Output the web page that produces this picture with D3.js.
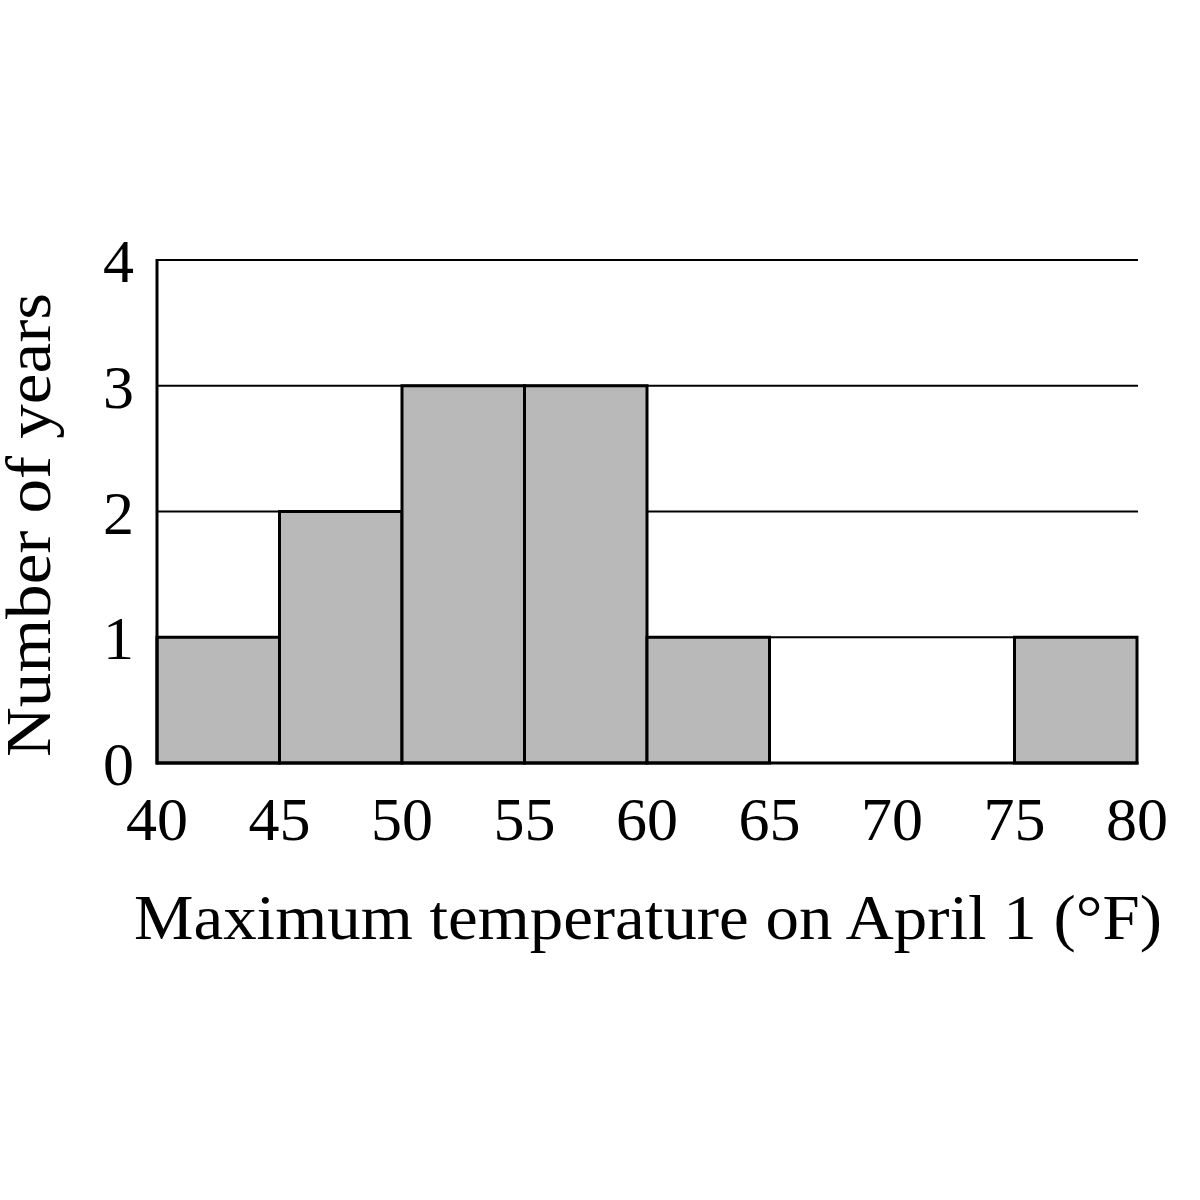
<!DOCTYPE html>
<html>
<head>
<meta charset="utf-8">
<script src="https://cdn.jsdelivr.net/npm/d3@7"></script>
<style>
  html, body { margin: 0; padding: 0; background: #fff; }
  text { font-family: "Liberation Serif", "Times New Roman", serif; fill: #000; }
</style>
</head>
<body>
<div id="chart"></div>
<script>
// histogram bins (lower edge) and counts
const binStarts = [40, 45, 50, 55, 60, 65, 70, 75];
const binWidth = 5;
const counts = [1, 2, 3, 3, 1, 0, 0, 1];
const xTicks = [40, 45, 50, 55, 60, 65, 70, 75, 80];
const yTicks = [0, 1, 2, 3, 4];
const xTitle = "Maximum temperature on April 1 (°F)";
const yTitle = "Number of years";

const width = 1200, height = 1200;
const margin = { top: 260, right: 63, bottom: 437, left: 157 };

const x = d3.scaleLinear().domain([40, 80]).range([margin.left, width - margin.right]);
const y = d3.scaleLinear().domain([0, 4]).range([height - margin.bottom, margin.top]);

const svg = d3.select("#chart").append("svg")
  .attr("width", width)
  .attr("height", height);

// horizontal grid lines
svg.append("g")
  .selectAll("line")
  .data(yTicks.filter(d => d > 0))
  .join("line")
  .attr("x1", x(40))
  .attr("x2", x(80) + 1)
  .attr("y1", d => y(d))
  .attr("y2", d => y(d))
  .attr("stroke", "#000")
  .attr("stroke-width", 2);

// bars
svg.append("g")
  .selectAll("rect")
  .data(binStarts.map((s, i) => ({ s, n: counts[i] })).filter(d => d.n > 0))
  .join("rect")
  .attr("x", d => x(d.s))
  .attr("y", d => y(d.n))
  .attr("width", d => x(d.s + binWidth) - x(d.s))
  .attr("height", d => y(0) - y(d.n))
  .attr("fill", "#b9b9b9")
  .attr("stroke", "#000")
  .attr("stroke-width", 3);

// axis lines
svg.append("line")
  .attr("x1", x(40)).attr("x2", x(40))
  .attr("y1", y(4) - 1).attr("y2", y(0) + 1.5)
  .attr("stroke", "#000").attr("stroke-width", 3);
svg.append("line")
  .attr("x1", x(40)).attr("x2", x(80) + 1.5)
  .attr("y1", y(0)).attr("y2", y(0))
  .attr("stroke", "#000").attr("stroke-width", 3);

// tick labels
svg.append("g")
  .selectAll("text")
  .data(yTicks)
  .join("text")
  .attr("x", 134)
  .attr("y", d => y(d) + 22)
  .attr("text-anchor", "end")
  .attr("font-size", 62)
  .text(d => d);

svg.append("g")
  .selectAll("text")
  .data(xTicks)
  .join("text")
  .attr("x", d => x(d))
  .attr("y", 840)
  .attr("text-anchor", "middle")
  .attr("font-size", 62)
  .text(d => d);

// axis titles (reference set wider than the font's natural width)
svg.append("text")
  .attr("x", 134)
  .attr("y", 939)
  .attr("font-size", 63)
  .attr("textLength", 1028)
  .attr("lengthAdjust", "spacingAndGlyphs")
  .text(xTitle);

svg.append("text")
  .attr("transform", "translate(50,757) rotate(-90)")
  .attr("font-size", 63)
  .attr("textLength", 464)
  .attr("lengthAdjust", "spacingAndGlyphs")
  .text(yTitle);
</script>
</body>
</html>
